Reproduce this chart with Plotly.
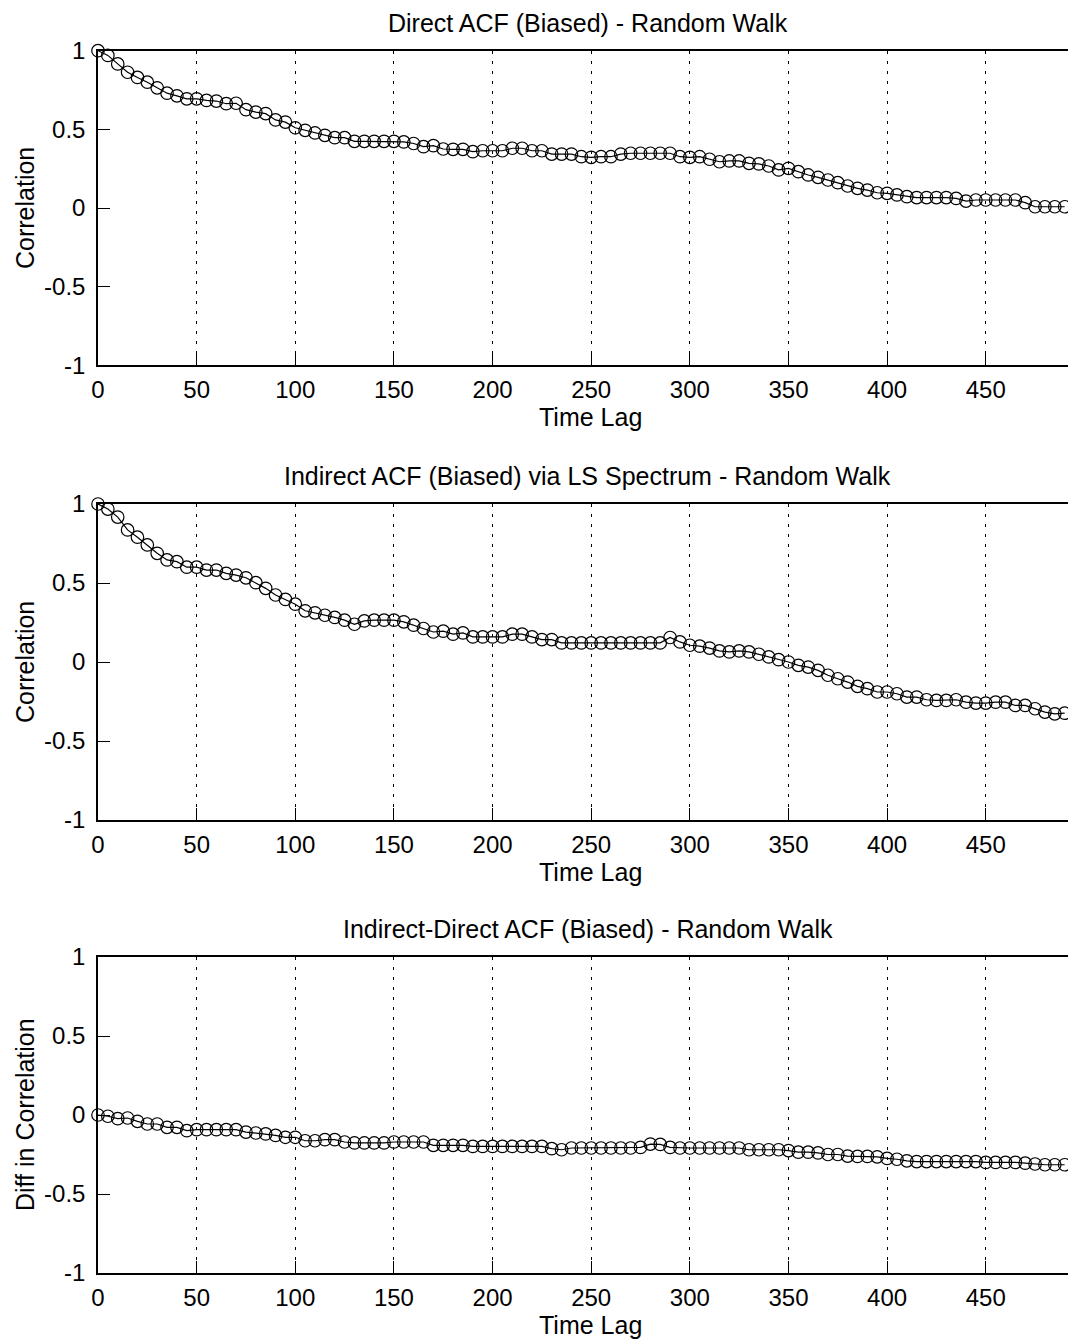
import plotly.graph_objects as go

lags = list(range(0, 495, 5))

direct_acf = [
    1.0, 0.97, 0.916, 0.863, 0.83, 0.80, 0.764, 0.73, 0.713, 0.694,
    0.694, 0.684, 0.68, 0.663, 0.666, 0.625, 0.61, 0.60, 0.56, 0.546,
    0.51, 0.494, 0.477, 0.462, 0.447, 0.447, 0.424, 0.424, 0.424, 0.424,
    0.424, 0.42, 0.41, 0.39, 0.396, 0.375, 0.373, 0.373, 0.358, 0.364,
    0.364, 0.364, 0.38, 0.38, 0.364, 0.364, 0.343, 0.343, 0.343, 0.326,
    0.322, 0.326, 0.326, 0.343, 0.348, 0.348, 0.348, 0.348, 0.348, 0.326,
    0.322, 0.326, 0.31, 0.294, 0.299, 0.299, 0.284, 0.28, 0.267, 0.242,
    0.252, 0.231, 0.21, 0.195, 0.178, 0.161, 0.14, 0.125, 0.114, 0.097,
    0.093, 0.083, 0.072, 0.066, 0.066, 0.066, 0.066, 0.061, 0.044, 0.051,
    0.051, 0.051, 0.051, 0.051, 0.034, 0.008, 0.008, 0.008, 0.008,
]

indirect_acf = [
    1.0, 0.968, 0.917, 0.836, 0.79, 0.741, 0.688, 0.646, 0.635, 0.6,
    0.6, 0.582, 0.582, 0.561, 0.55, 0.533, 0.502, 0.466, 0.424, 0.396,
    0.366, 0.324, 0.311, 0.296, 0.282, 0.265, 0.239, 0.26, 0.265, 0.265,
    0.265, 0.254, 0.233, 0.212, 0.19, 0.195, 0.176, 0.184, 0.159, 0.159,
    0.159, 0.159, 0.176, 0.176, 0.159, 0.142, 0.142, 0.121, 0.121, 0.121,
    0.121, 0.121, 0.121, 0.121, 0.121, 0.121, 0.121, 0.121, 0.155, 0.127,
    0.106, 0.1, 0.088, 0.07, 0.064, 0.07, 0.064, 0.049, 0.032, 0.015,
    0.0, -0.021, -0.032, -0.053, -0.084, -0.106, -0.127, -0.154, -0.169, -0.19,
    -0.19, -0.201, -0.222, -0.222, -0.239, -0.243, -0.243, -0.239, -0.254, -0.26,
    -0.26, -0.254, -0.254, -0.275, -0.275, -0.296, -0.317, -0.328, -0.324,
]

diff_acf = [
    0.0, -0.008, -0.023, -0.019, -0.04, -0.057, -0.057, -0.078, -0.078, -0.099,
    -0.093, -0.093, -0.093, -0.093, -0.093, -0.108, -0.114, -0.12, -0.129, -0.141,
    -0.141, -0.163, -0.163, -0.156, -0.156, -0.171, -0.177, -0.177, -0.177, -0.177,
    -0.171, -0.171, -0.171, -0.171, -0.192, -0.192, -0.192, -0.192, -0.199, -0.199,
    -0.199, -0.199, -0.199, -0.199, -0.199, -0.199, -0.213, -0.22, -0.209, -0.209,
    -0.209, -0.209, -0.209, -0.209, -0.209, -0.205, -0.184, -0.186, -0.205, -0.209,
    -0.209, -0.209, -0.209, -0.209, -0.209, -0.209, -0.22, -0.22, -0.22, -0.22,
    -0.225, -0.235, -0.235, -0.24, -0.25, -0.25, -0.26, -0.262, -0.262, -0.265,
    -0.275, -0.28, -0.29, -0.295, -0.295, -0.295, -0.295, -0.295, -0.295, -0.295,
    -0.30, -0.30, -0.30, -0.30, -0.305, -0.31, -0.315, -0.315, -0.315,
]

titles = [
    "Direct ACF (Biased) - Random Walk",
    "Indirect ACF (Biased) via LS Spectrum - Random Walk",
    "Indirect-Direct ACF (Biased) - Random Walk",
]
ylabels = ["Correlation", "Correlation", "Diff in Correlation"]
xlabel = "Time Lag"
x_ticks = [0, 50, 100, 150, 200, 250, 300, 350, 400, 450]
y_ticks = [-1, -0.5, 0, 0.5, 1]
y_ticktext = ["-1", "-0.5", "0", "0.5", "1"]

W, H = 1068, 1339
FONT = "Liberation Sans, Arial, sans-serif"
FS_TICK = 24
FS_TEXT = 25

# plot area pixel extents (top, bottom)
panels = [(50.7, 365.3), (504, 820), (957, 1273)]
left_px = 98

fig = go.Figure()
series = [direct_acf, indirect_acf, diff_acf]
annotations = []
for i, (ys, (top, bot)) in enumerate(zip(series, panels)):
    n = "" if i == 0 else str(i + 1)
    fig.add_trace(go.Scatter(
        x=lags, y=ys, mode="lines+markers",
        line=dict(color="black", width=1.2),
        marker=dict(symbol="circle-open", size=12.5, color="black", line=dict(width=1.2)),
        xaxis="x" + n, yaxis="y" + n, cliponaxis=False, showlegend=False,
    ))
    dom = [1 - bot / H, 1 - top / H]
    fig.layout["xaxis" + n] = dict(
        domain=[0, 1], anchor="y" + n, range=[0, 491.7], automargin=False,
        tickmode="array", tickvals=x_ticks, ticks="inside", ticklen=12,
        tickcolor="black", tickwidth=1,
        showline=True, linecolor="black", linewidth=1.5, mirror=True,
        showgrid=True, gridcolor="black", gridwidth=1.4, griddash="3px,7px",
        zeroline=False, ticklabelstandoff=2,
        tickfont=dict(family=FONT, size=FS_TICK, color="black"),
    )
    fig.layout["yaxis" + n] = dict(
        domain=dom, anchor="x" + n, range=[-1, 1], automargin=False,
        tickmode="array", tickvals=y_ticks, ticktext=y_ticktext,
        ticks="inside", ticklen=12, tickcolor="black", tickwidth=1,
        showline=True, linecolor="black", linewidth=1.5, mirror=False,
        showgrid=False, zeroline=False, ticklabelstandoff=6,
        tickfont=dict(family=FONT, size=FS_TICK, color="black"),
    )
    annotations.append(dict(
        text=titles[i], xref="paper", yref="paper",
        x=(587.5 - left_px) / (W - left_px), y=1 - (top - 28) / H,
        xanchor="center", yanchor="middle", showarrow=False,
        font=dict(family=FONT, size=FS_TEXT, color="black"),
    ))
    annotations.append(dict(
        text=xlabel, xref="paper", yref="paper",
        x=(590 - left_px) / (W - left_px), y=1 - (bot + 52) / H,
        xanchor="center", yanchor="middle", showarrow=False,
        font=dict(family=FONT, size=FS_TEXT, color="black"),
    ))
    annotations.append(dict(
        text=ylabels[i], xref="paper", yref="paper",
        x=(25 - left_px) / (W - left_px), y=1 - ((top + bot) / 2) / H,
        xanchor="center", yanchor="middle", showarrow=False, textangle=-90,
        font=dict(family=FONT, size=FS_TEXT, color="black"),
    ))

fig.update_layout(
    width=W, height=H, autosize=False,
    margin=dict(l=left_px, r=0, t=0, b=0, autoexpand=False),
    paper_bgcolor="white", plot_bgcolor="white",
    annotations=annotations,
    font=dict(family=FONT, size=FS_TEXT, color="black"),
)

fig.write_html("out.html")
